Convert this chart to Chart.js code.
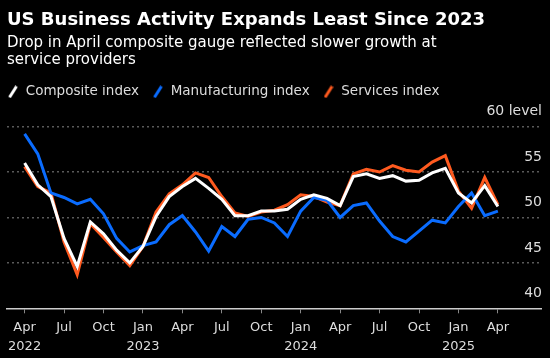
<!DOCTYPE html>
<html>
<head>
<meta charset="utf-8">
<script src="https://cdn.jsdelivr.net/npm/chart.js@4.4.0/dist/chart.umd.min.js"></script>
<style>
  html, body { margin: 0; padding: 0; background: #000; }
</style>
</head>
<body>
<canvas id="myChart" width="550" height="358"></canvas>
<script>
// monthly, Apr 2022 .. Apr 2025
const months = [
  "2022-04", "2022-05", "2022-06", "2022-07", "2022-08", "2022-09", "2022-10", "2022-11", "2022-12",
  "2023-01", "2023-02", "2023-03", "2023-04", "2023-05", "2023-06", "2023-07", "2023-08", "2023-09",
  "2023-10", "2023-11", "2023-12", "2024-01", "2024-02", "2024-03", "2024-04", "2024-05", "2024-06",
  "2024-07", "2024-08", "2024-09", "2024-10", "2024-11", "2024-12", "2025-01", "2025-02", "2025-03",
  "2025-04"
];
const composite = [
  56.0, 53.6, 52.3, 47.7, 44.6, 49.5, 48.2, 46.4, 45.0,
  46.8, 50.1, 52.3, 53.4, 54.3, 53.2, 52.0, 50.2, 50.2,
  50.7, 50.7, 50.9, 52.0, 52.5, 52.1, 51.3, 54.5, 54.8,
  54.3, 54.6, 54.0, 54.1, 54.9, 55.4, 52.7, 51.6, 53.5,
  51.2
];
const manufacturing = [
  59.2, 57.0, 52.7, 52.2, 51.5, 52.0, 50.4, 47.7, 46.2,
  46.9, 47.3, 49.2, 50.2, 48.4, 46.3, 49.0, 47.9, 49.8,
  50.0, 49.4, 47.9, 50.7, 52.2, 51.9, 50.0, 51.3, 51.6,
  49.6, 47.9, 47.3, 48.5, 49.7, 49.4, 51.2, 52.7, 50.2,
  50.7
];
const services = [
  55.6, 53.4, 52.7, 47.3, 43.7, 49.3, 47.8, 46.2, 44.7,
  46.8, 50.6, 52.6, 53.6, 54.9, 54.4, 52.3, 50.5, 50.1,
  50.6, 50.8, 51.4, 52.5, 52.3, 51.7, 51.3, 54.8, 55.3,
  55.0, 55.7, 55.2, 55.0, 56.1, 56.8, 52.9, 51.0, 54.4,
  51.4
];

// x tick labels (every 3 months from Apr 2022)
const tickIndex = [0, 3, 6, 9, 12, 15, 18, 21, 24, 27, 30, 33, 36];
const tickMonth = ["Apr", "Jul", "Oct", "Jan", "Apr", "Jul", "Oct", "Jan", "Apr", "Jul", "Oct", "Jan", "Apr"];
const tickYear = ["2022", "", "", "2023", "", "", "", "2024", "", "", "", "2025", ""];
const yTicks = [40, 45, 50, 55, 60];

const WHITE = "#ffffff";
const BLUE = "#0a6cff";
const ORANGE = "#ff5a1f";

function slash(color) {
  const c = document.createElement("canvas");
  c.width = 10;
  c.height = 13;
  const g = c.getContext("2d");
  g.strokeStyle = color;
  g.lineWidth = 3;
  g.beginPath();
  g.moveTo(1.5, 12);
  g.lineTo(8.5, 1);
  g.stroke();
  return c;
}

const toPoints = (arr) => arr.map((v, i) => ({ x: i, y: v }));

const ctx = document.getElementById("myChart").getContext("2d");
const myChart = new Chart(ctx, {
  type: "line",
  data: {
    datasets: [
      { label: "Composite index", data: toPoints(composite), borderColor: WHITE, icon: slash(WHITE), xAxisID: "x", yAxisID: "y" },
      { label: "Manufacturing index", data: toPoints(manufacturing), borderColor: BLUE, icon: slash(BLUE), xAxisID: "x", yAxisID: "y" },
      { label: "Services index", data: toPoints(services), borderColor: ORANGE, icon: slash(ORANGE), xAxisID: "x", yAxisID: "y" },
    ],
  },
  options: {
    responsive: false,
    animation: false,
    devicePixelRatio: 1,
    layout: { padding: { left: 7, right: 7, top: 0, bottom: 0 } },
    elements: {
      line: { borderWidth: 3, tension: 0, borderJoinStyle: "miter" },
      point: { radius: 0 },
    },
    plugins: {
      title: {
        display: true,
        text: "US Business Activity Expands Least Since 2023",
        align: "start",
        color: "#ffffff",
        font: { family: "DejaVu Sans", size: 18, weight: "bold", lineHeight: 1.2 },
        padding: { top: 10, bottom: 0 },
      },
      subtitle: {
        display: true,
        text: ["Drop in April composite gauge reflected slower growth at", "service providers"],
        align: "start",
        color: "#ffffff",
        font: { family: "DejaVu Sans", size: 15, lineHeight: 1.15 },
        padding: { top: 3, bottom: 16 },
      },
      legend: {
        display: true,
        position: "top",
        align: "start",
        labels: {
          color: "#dddddd",
          font: { family: "DejaVu Sans", size: 13.5 },
          usePointStyle: true,
          pointStyleWidth: 12,
          padding: 0,
          generateLabels: (chart) =>
            chart.data.datasets.map((ds, i) => ({
              text: ds.label + "   ",
              fontColor: "#dddddd",
              pointStyle: ds.icon,
              strokeStyle: ds.borderColor,
              fillStyle: ds.borderColor,
              lineWidth: 0,
              datasetIndex: i,
              hidden: false,
            })),
        },
      },
      tooltip: { enabled: false },
    },
    scales: {
      x: {
        type: "linear",
        min: -1.34,
        max: 39.28,
        afterBuildTicks: (scale) => {
          scale.ticks = tickIndex.map((v) => ({ value: v }));
        },
        afterFit: (s) => { s.height = s.height - 3; },
        ticks: {
          autoSkip: false,
          maxRotation: 0,
          color: "#dddddd",
          padding: 5,
          font: { family: "DejaVu Sans", size: 13, lineHeight: 1.45 },
          callback: (v) => {
            const k = tickIndex.indexOf(v);
            if (k < 0) return "";
            return tickYear[k] ? [tickMonth[k], tickYear[k]] : tickMonth[k];
          },
        },
        grid: { display: true, drawOnChartArea: false, drawTicks: true, tickLength: 5, color: "#888888" },
        border: { display: true, color: "#cccccc", width: 1.5 },
      },
      // empty band between legend and plot
      gap: {
        type: "linear",
        position: "top",
        display: true,
        ticks: { display: false },
        grid: { display: false },
        border: { display: false },
        afterFit: (s) => { s.height = 18; },
      },
      y: {
        position: "right",
        min: 40,
        max: 60,
        afterBuildTicks: (scale) => {
          scale.ticks = yTicks.map((v) => ({ value: v }));
        },
        ticks: {
          mirror: true,
          padding: 1,
          labelOffset: -15,
          color: "#dddddd",
          font: { family: "DejaVu Sans", size: 14 },
          callback: (v) => (v === 60 ? "60 level" : String(v)),
        },
        grid: {
          drawTicks: false,
          color: (c) => (c.tick && c.tick.value === 40 ? "rgba(0,0,0,0)" : "#5a5a5a"),
          lineWidth: 1.5,
        },
        border: { display: false, dash: [2, 3] },
      },
    },
  },
});
</script>
</body>
</html>
